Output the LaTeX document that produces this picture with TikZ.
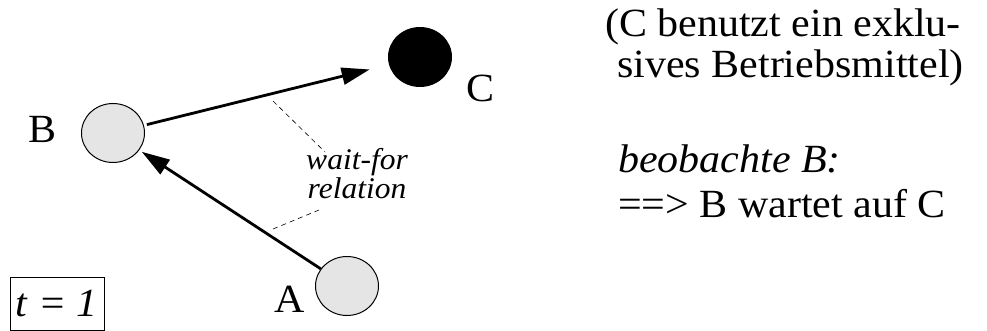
\documentclass[tikz,border=0pt]{standalone}
\usepackage{fontspec}
\setmainfont{Liberation Serif}[FakeStretch=1.05]
\usetikzlibrary{arrows.meta,shapes.geometric}
\begin{document}
\begin{tikzpicture}[x=1pt,y=-1pt,
  proc/.style={draw,line width=1pt,ellipse,minimum width=63pt,minimum height=59pt,inner sep=0pt},
  big/.style={font=\fontsize{40}{41}\selectfont},
  small/.style={font=\fontsize{30}{29}\selectfont\itshape},
  wf/.style={line width=2.8pt,-{Triangle[length=28pt,width=17pt]}},
  dsh/.style={dashed,line width=0.6pt,dash pattern=on 5pt off 4pt}]
\useasboundingbox (0,0) rectangle (987,331);
\node[proc,fill=black!10] (B) at (113,133) {};
\node[proc,fill=black] (C) at (420,57) {};
\node[proc,fill=black!10] (A) at (347,286) {};
\node[big,anchor=base,inner sep=0pt] (lB) at (43,143) {B};
\node[big,anchor=base,inner sep=0pt] (lC) at (480,102) {C};
\node[big,anchor=base,inner sep=0pt] (lA) at (290,312) {A};
\draw[wf,shorten <=3pt,shorten >=20pt] (B) -- (C);
\draw[wf,shorten >=3pt] (A) -- (B);
\coordinate (d1a) at (273,101);
\coordinate (d1b) at (325,152);
\coordinate (d2a) at (273,229);
\coordinate (d2b) at (319,210);
\draw[dsh] (d1a) -- (d1b);
\draw[dsh] (d2a) -- (d2b);
\node[small,anchor=base,inner sep=0pt] (wf1) at (357,170) {wait-for};
\node[small,anchor=base,inner sep=0pt] (wf2) at (357,199) {relation};
\node[draw,line width=0.6pt,font=\fontsize{40}{41}\selectfont\itshape,minimum width=94pt,minimum height=53pt,inner sep=0pt] (t) at (57,303.5) {t = 1};
\node[big,anchor=base west,inner sep=0pt] (r1) at (605,37) {(C benutzt ein exklu-};
\node[big,anchor=base west,inner sep=0pt] (r2) at (617,78) {sives Betriebsmittel)};
\node[anchor=base west,inner sep=0pt,font=\fontsize{40}{41}\selectfont\itshape] (r3) at (618,173) {beobachte B:};
\node[big,anchor=base west,inner sep=0pt] (r4) at (618,217) {==> B wartet auf C};
\end{tikzpicture}
\end{document}
